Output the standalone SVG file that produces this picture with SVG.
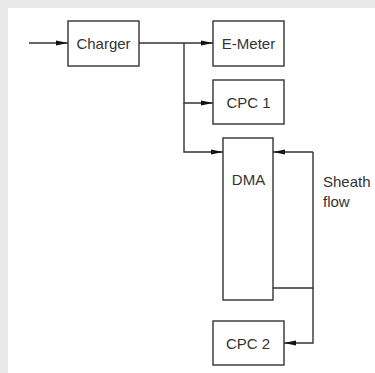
<svg xmlns="http://www.w3.org/2000/svg" width="375" height="373" viewBox="0 0 375 373">
<style>
.box{fill:#fff;stroke:#333;stroke-width:1.4}
.ln{fill:none;stroke:#333;stroke-width:1.4}
text{font-family:"Liberation Sans",Arial,sans-serif;font-size:15px;fill:#333}
.c{text-anchor:middle}
</style>
<defs>
<marker id="ah" viewBox="0 0 12 6" refX="12" refY="3" markerWidth="12" markerHeight="6" markerUnits="userSpaceOnUse" orient="auto">
<path d="M0,0.6 L12,3 L0,5.4 Z" fill="#111"/>
</marker>
</defs>
<rect x="0" y="0" width="375" height="373" fill="#e9e9e9"/>
<rect x="8" y="8" width="367" height="365" fill="#fff"/>
<g id="connectors">
<path class="ln" d="M29,43 H68" marker-end="url(#ah)"/>
<path class="ln" d="M139,43 H213" marker-end="url(#ah)"/>
<path class="ln" d="M184,43 V103 H213" marker-end="url(#ah)"/>
<path class="ln" d="M184,103 V152 H223" marker-end="url(#ah)"/>
<path class="ln" d="M313,152 H273" marker-end="url(#ah)"/>
<path class="ln" d="M273,288 H313 V152"/>
<path class="ln" d="M313,288 V343 H284" marker-end="url(#ah)"/>
</g>
<g id="charger"><rect class="box" x="68" y="21" width="71" height="45"/><text class="c" x="103.5" y="48.5">Charger</text></g>
<g id="emeter"><rect class="box" x="213" y="21" width="71" height="45"/><text class="c" x="248.5" y="48.5">E-Meter</text></g>
<g id="cpc1"><rect class="box" x="213" y="80" width="71" height="44"/><text class="c" x="248.5" y="108">CPC 1</text></g>
<g id="dma"><rect class="box" x="223" y="138" width="50" height="162"/><text class="c" x="248.5" y="185">DMA</text></g>
<g id="cpc2"><rect class="box" x="213" y="321" width="71" height="44"/><text class="c" x="248" y="348.5">CPC 2</text></g>
<g id="sheath"><text x="323" y="187">Sheath</text><text x="323" y="207">flow</text></g>
</svg>
